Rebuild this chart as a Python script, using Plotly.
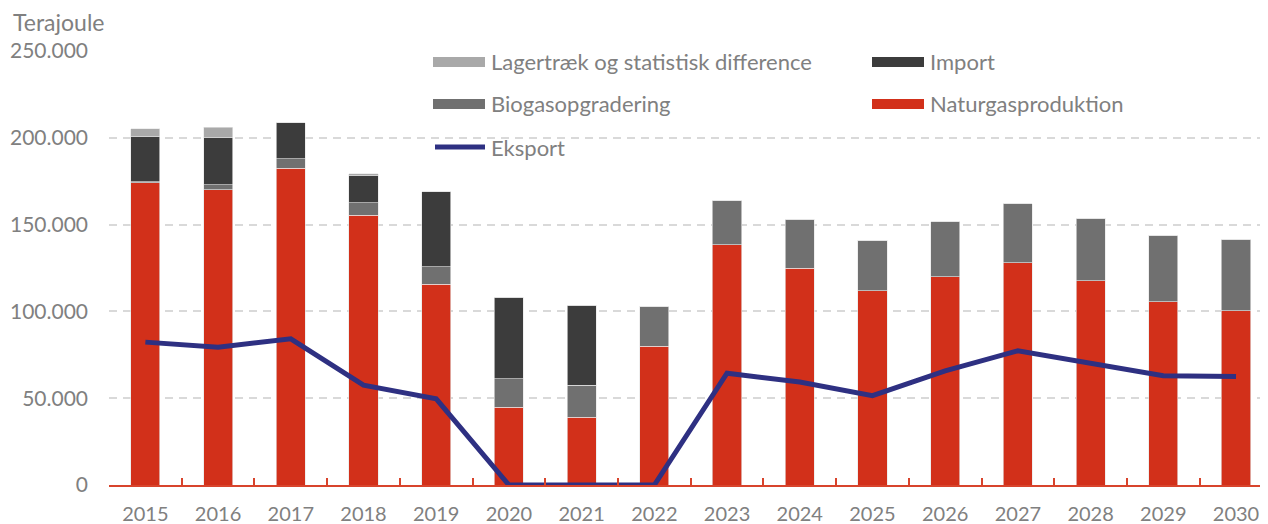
import plotly.graph_objects as go

years = ["2015", "2016", "2017", "2018", "2019", "2020", "2021", "2022",
         "2023", "2024", "2025", "2026", "2027", "2028", "2029", "2030"]
naturgas = [174000, 170000, 182400, 155500, 115700, 44800, 39000, 80000,
            138400, 125000, 111900, 120000, 128000, 117800, 105500, 100500]
biogas = [800, 3000, 5400, 7100, 10000, 16300, 18500, 23000,
          25400, 28200, 29000, 31700, 34000, 36000, 38500, 41000]
importv = [26100, 27300, 20800, 15800, 43100, 47100, 46100, 0,
           0, 0, 0, 0, 0, 0, 0, 0]
lager = [4400, 5700, 0, 1000, 0, 0, 0, 0,
         0, 0, 0, 0, 0, 0, 0, 0]
eksport = [82300, 79400, 84200, 57500, 49600, 0, 0, 0,
           64400, 59300, 51500, 65700, 77300, 70500, 63000, 62500]

C_RED = "#D2301A"
C_BIO = "#707070"
C_IMP = "#3C3C3C"
C_LAG = "#A9A9A9"
C_EXP = "#2E3082"
C_TXT = "#808080"
FONT = "Lato"

# page offset of the plotly div (default body margin)
OFF = 8
W, H = 1268 - OFF, 524 - OFF
L, R, T, B = 109 - OFF, 0, 51 - OFF, 39
PW, PH = W - L - R, H - T - B


def px(x):
    """page pixel x -> paper coordinate"""
    return (x - OFF - L) / PW


def py(y):
    """page pixel y -> paper coordinate"""
    return (H - B - (y - OFF)) / PH


fig = go.Figure()
bar_line = dict(color="rgba(230,230,230,0.8)", width=0.8)
fig.add_trace(go.Bar(x=years, y=naturgas, name="Naturgasproduktion",
                     marker=dict(color=C_RED, line=bar_line), showlegend=False))
fig.add_trace(go.Bar(x=years, y=biogas, name="Biogasopgradering",
                     marker=dict(color=C_BIO, line=bar_line), showlegend=False))
fig.add_trace(go.Bar(x=years, y=importv, name="Import",
                     marker=dict(color=C_IMP, line=bar_line), showlegend=False))
fig.add_trace(go.Bar(x=years, y=lager, name="Lagertræk og statistisk difference",
                     marker=dict(color=C_LAG, line=bar_line), showlegend=False))
fig.add_trace(go.Scatter(x=years, y=eksport, name="Eksport", mode="lines",
                         line=dict(color=C_EXP, width=5), showlegend=False))

# Legend drawn as shapes + text
legend_items = [
    ("Lagertræk og statistisk difference", C_LAG, 433, 62, "bar"),
    ("Import", C_IMP, 872, 62, "bar"),
    ("Biogasopgradering", C_BIO, 433, 104, "bar"),
    ("Naturgasproduktion", C_RED, 872, 104, "bar"),
    ("Eksport", C_EXP, 433, 147, "line"),
]
shapes = []
annotations = []
for name, col, x0, yc, kind in legend_items:
    if kind == "bar":
        shapes.append(dict(type="rect", xref="paper", yref="paper",
                           x0=px(x0), x1=px(x0 + 52), y0=py(yc - 5), y1=py(yc + 5),
                           fillcolor=col, line=dict(width=0)))
    else:
        shapes.append(dict(type="line", xref="paper", yref="paper",
                           x0=px(x0 + 2), x1=px(x0 + 52), y0=py(yc), y1=py(yc),
                           line=dict(color=col, width=5)))
    annotations.append(dict(text=name, xref="paper", yref="paper",
                            x=px(x0 + 56), y=py(yc), xanchor="left", yanchor="middle",
                            showarrow=False, font=dict(family=FONT, size=22, color=C_TXT)))

annotations.append(dict(text="Terajoule", xref="paper", yref="paper",
                        x=px(12), y=py(22), xanchor="left", yanchor="middle",
                        borderpad=0,
                        showarrow=False, font=dict(family=FONT, size=23, color=C_TXT)))

fig.update_layout(
    width=W, height=H,
    margin=dict(l=L, r=R, t=T, b=B, pad=0, autoexpand=False),
    barmode="stack", bargap=0.6,
    plot_bgcolor="white", paper_bgcolor="white",
    separators=",.",
    font=dict(family=FONT, size=20, color=C_TXT),
    shapes=shapes, annotations=annotations,
    xaxis=dict(type="category", range=[-0.5, 15.44], automargin=False,
               showline=True, linecolor="#D8442C", linewidth=1.5,
               ticks="inside", tickson="boundaries", ticklen=7, tickcolor="#D8442C",
               tickwidth=1.5, showgrid=False,
               tickfont=dict(family=FONT, size=20, color=C_TXT),
               ticklabelstandoff=10),
    yaxis=dict(range=[0, 250000], tickvals=[0, 50000, 100000, 150000, 200000, 250000],
               automargin=False,
               tickformat=",d", showgrid=True, gridcolor="#D9D9D9", gridwidth=1.5,
               griddash="8px,6px", zeroline=False, showline=False, ticks="",
               tickfont=dict(family=FONT, size=21, color=C_TXT),
               ticklabelstandoff=20),
)

fig.write_html("out.html")
